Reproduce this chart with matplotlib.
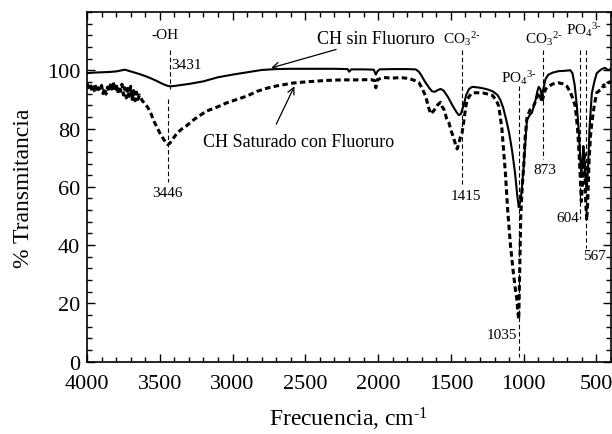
import matplotlib
matplotlib.use("Agg")
import matplotlib.pyplot as plt
from matplotlib.ticker import MultipleLocator

plt.rcParams['font.family'] = ['Liberation Serif', 'DejaVu Serif']
plt.rcParams['mathtext.fontset'] = 'custom'
plt.rcParams['mathtext.rm'] = 'Liberation Serif'
plt.rcParams['mathtext.it'] = 'Liberation Serif:italic'

# --- CH sin Fluoruro (solid) ---
sol_x = [4000, 3950, 3900, 3850, 3800, 3760, 3740, 3720, 3680, 3640, 3600, 3560, 3520,
         3480, 3450, 3431, 3400, 3360, 3300, 3200, 3100, 3000, 2900, 2800, 2700, 2600,
         2500, 2400, 2300, 2210, 2199, 2185, 2100, 2030, 2016, 2005, 1990, 1900, 1800,
         1742, 1720, 1700, 1680, 1650, 1630, 1610, 1590, 1571, 1550, 1520, 1490, 1460,
         1445, 1432, 1423, 1410, 1395, 1375, 1354, 1330, 1300, 1270, 1240, 1210, 1180,
         1160, 1140, 1120, 1100, 1080, 1060, 1045, 1034, 1025, 1015, 1000, 985, 977,
         960, 943, 920, 905, 897, 885, 875, 865, 850, 830, 800, 760, 720, 680, 665, 650,
         635, 620, 612, 604, 597, 590, 583, 575, 567, 558, 548, 532, 515, 498, 480, 460,
         440, 420, 400]
sol_y = [99.0, 99.2, 99.3, 99.4, 99.6, 100.0, 100.2, 99.9, 99.3, 98.7, 98.0, 97.2, 96.3,
         95.3, 94.7, 94.5, 94.6, 94.9, 95.3, 96.2, 97.6, 98.5, 99.3, 100.1, 100.4, 100.5,
         100.5, 100.5, 100.5, 100.4, 99.5, 100.3, 100.3, 100.2, 98.5, 99.6, 100.3, 100.4, 100.4,
         100.3, 99.5, 98.0, 96.2, 94.0, 92.8, 92.6, 93.2, 93.6, 93.0, 90.8, 88.0, 85.5,
         84.6, 85.0, 86.4, 88.5, 91.5, 93.6, 94.3, 94.2, 94.0, 93.7, 93.3, 92.7, 91.5,
         89.8, 87.0, 83.0, 78.5, 72.5, 65.0, 57.5, 53.0, 54.5, 58.0, 67.0, 78.0, 83.0,
         84.5, 85.5, 89.5, 93.0, 94.3, 93.5, 91.0, 93.5, 97.0, 98.5, 99.2, 99.7, 99.8, 100.0, 99.0, 95.0,
         88.0, 78.0, 70.0, 64.0, 69.0, 74.0, 70.0, 62.0, 59.5, 66.0, 80.0, 92.0, 96.0, 99.0, 99.8, 100.5,
         100.8, 100.0, 100.5]

# --- CH Saturado con Fluoruro (dashed) ---
das_x = [4000, 3990, 3980, 3970, 3960, 3950, 3940, 3930, 3920, 3910, 3900, 3890, 3880,
         3870, 3860, 3850, 3840, 3830, 3820, 3810, 3800, 3790, 3780, 3770, 3760, 3750,
         3740, 3730, 3720, 3710, 3700, 3690, 3680, 3670, 3660, 3650, 3640, 3620, 3600,
         3580, 3560, 3540, 3520, 3500, 3480, 3460, 3446, 3430, 3410, 3380, 3350, 3315,
         3280, 3240, 3200, 3178, 3100, 3041, 2970, 2904, 2830, 2767, 2700, 2587, 2500,
         2358, 2250, 2130, 2050, 2025, 2016, 2005, 1960, 1900, 1850, 1788, 1750, 1719,
         1695, 1673, 1655, 1639, 1620, 1605, 1590, 1571, 1560, 1548, 1530, 1514, 1500,
         1480, 1468, 1457, 1445, 1435, 1423, 1410, 1398, 1388, 1360, 1331, 1280, 1217,
         1190, 1171, 1150, 1126, 1110, 1091, 1070, 1055, 1046, 1040, 1034, 1028, 1020,
         1010, 1000, 990, 977, 955, 932, 910, 897, 885, 875, 865, 850, 829, 800, 760,
         730, 703, 680, 660, 646, 630, 620, 612, 604, 597, 590, 585, 580, 574, 567, 560,
         550, 540, 532, 515, 498, 480, 464, 450, 440, 425, 410, 400]
das_y = [95.5, 94.0, 95.2, 93.5, 94.8, 93.0, 94.5, 92.5, 94.0, 93.2, 94.8, 92.0, 93.8,
         91.8, 94.2, 92.6, 95.0, 93.5, 96.0, 93.0, 95.5, 92.0, 94.5, 92.8, 95.2, 91.5,
         94.0, 90.5, 93.8, 91.0, 94.5, 90.0, 93.0, 89.5, 92.5, 90.0, 91.5, 89.5, 88.5,
         87.0, 85.0, 82.5, 80.5, 78.5, 76.8, 75.3, 74.5, 75.0, 76.5, 78.5, 79.8, 81.0,
         82.5, 84.0, 85.3, 86.0, 87.5, 88.8, 90.0, 91.1, 92.8, 93.8, 94.6, 95.6, 96.0,
         96.5, 96.7, 96.7, 96.8, 96.5, 94.0, 96.8, 97.5, 97.3, 97.5, 97.2, 96.5, 95.7,
         93.5, 91.0, 87.5, 85.0, 86.0, 87.0, 88.2, 89.0, 87.5, 86.6, 83.5, 82.0, 79.5,
         76.5, 74.5, 73.0, 75.0, 77.0, 78.6, 83.0, 87.5, 90.0, 92.0, 92.3, 92.2, 91.5,
         89.8, 87.7, 80.0, 65.0, 52.0, 40.0, 30.0, 24.0, 21.0, 17.0, 14.5, 30.0, 50.0,
         60.0, 67.0, 77.0, 84.0, 86.5, 87.7, 90.5, 92.3, 91.0, 89.0, 91.0, 93.5, 94.5, 95.3, 95.7,
         95.3, 94.5, 92.5, 90.0, 87.7, 80.0, 72.0, 64.0, 55.0, 60.0, 68.0, 72.0, 66.0, 55.0, 48.5, 55.0,
         70.0, 78.0, 82.0, 88.0, 92.3, 93.0, 93.4, 95.0, 94.5, 95.5, 96.0, 95.8]

xticks = [4000, 3500, 3000, 2500, 2000, 1500, 1000, 500]
yticks = [0, 20, 40, 60, 80, 100]

fig = plt.figure(figsize=(6.12, 4.35), dpi=100)
ax = fig.add_axes([0.1422, 0.1662, 0.8562, 0.804])

ax.plot(sol_x, sol_y, color='black', lw=1.5, solid_joinstyle='round')
ax.plot(das_x, das_y, color='black', lw=2.2, linestyle=(0, (1.8, 1.1)))

ax.set_xlim(4000, 400)
ax.set_ylim(0, 120)
ax.set_xticks(xticks)
ax.set_yticks(yticks)
ax.xaxis.set_minor_locator(MultipleLocator(100))
ax.yaxis.set_minor_locator(MultipleLocator(4))
ax.tick_params(which='both', direction='in', top=True, right=True, labelsize=16, width=1)
ax.tick_params(which='major', length=6)
ax.tick_params(which='minor', length=3.5)
ax.tick_params(axis='x', pad=9)
ax.tick_params(axis='y', pad=5)
for s in ax.spines.values():
    s.set_linewidth(1.2)

ax.set_xlabel('Frecuencia, cm$^{\\text{-}1}$', fontsize=17, labelpad=8.5)
ax.set_ylabel('% Transmitancia', fontsize=17, labelpad=9)

vl = dict(color='black', lw=0.8, linestyle=(0, (4, 2.5)))
fs = 11
co3 = 'CO$_3$$^{2\\text{-}}$'
po4 = 'PO$_4$$^{3\\text{-}}$'
# -OH
ax.text(3466, 112.2, '-OH', fontsize=fs, ha='center', va='center')
ax.plot([3431, 3431], [107, 93.5], **vl)
ax.text(3420, 102, '3431', fontsize=fs, ha='left', va='center')
ax.plot([3446, 3446], [90, 61.5], **vl)
ax.text(3446, 58, '3446', fontsize=fs, ha='center', va='center')
# CO3 1415
ax.text(1423, 111.2, co3, fontsize=fs, ha='center', va='center')
ax.plot([1423, 1423], [107, 61], **vl)
ax.text(1398, 57, '1415', fontsize=fs, ha='center', va='center')
# PO4 1035
ax.text(1030, 97.8, po4, fontsize=fs, ha='center', va='center')
ax.plot([1034, 1034], [94.5, 1.5], **vl)
ax.text(1048, 9.5, '1035', fontsize=fs, ha='right', va='center')
# CO3 873
ax.text(862, 111.2, co3, fontsize=fs, ha='center', va='center')
ax.plot([868, 868], [107, 69.5], **vl)
ax.text(852, 66, '873', fontsize=fs, ha='center', va='center')
# PO4 604/567
ax.text(588, 114, po4, fontsize=fs, ha='center', va='center', clip_on=False)
ax.plot([612, 612], [107, 49], **vl)
ax.plot([573, 573], [107, 39], **vl)
ax.text(616, 49.5, '604', fontsize=fs, ha='right', va='center')
ax.text(515, 36.5, '567', fontsize=fs, ha='center', va='center')

# Series labels
ax.annotate('CH sin Fluoruro', xy=(2735, 100.8), xytext=(2420, 111),
            fontsize=13, ha='left', va='center',
            arrowprops=dict(arrowstyle='->', color='black', lw=0.9,
                            shrinkA=0, shrinkB=0, mutation_scale=12))
ax.annotate('', xy=(2575, 94.5), xytext=(2700, 81.5),
            arrowprops=dict(arrowstyle='->', color='black', lw=0.9,
                            shrinkA=0, shrinkB=0, mutation_scale=12))
ax.text(3203, 75.7, 'CH Saturado con Fluoruro', fontsize=13, ha='left', va='center')

fig.savefig('out.png', dpi=100)
